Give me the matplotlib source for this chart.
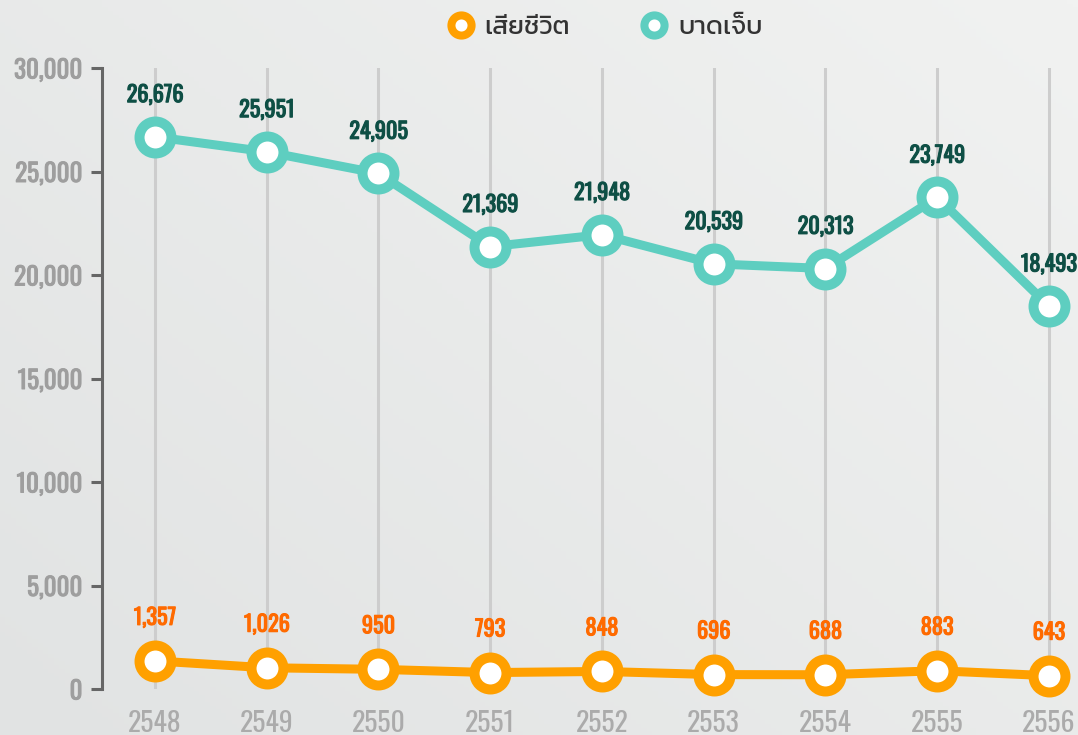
import matplotlib
matplotlib.use("Agg")
import matplotlib.pyplot as plt
import matplotlib.patheffects as pe
from matplotlib.lines import Line2D
import numpy as np

# data
years = [2548, 2549, 2550, 2551, 2552, 2553, 2554, 2555, 2556]
injured = [26676, 25951, 24905, 21369, 21948, 20539, 20313, 23749, 18493]
deaths = [1357, 1026, 950, 793, 848, 696, 688, 883, 643]
series_names = ["เสียชีวิต", "บาดเจ็บ"]
yticks = [0, 5000, 10000, 15000, 20000, 25000, 30000]

teal = "#5ecec0"
orange = "#ffa000"
num_font = ["Oswald", "Barlow Condensed", "DejaVu Sans"]
thai_font = ["Kanit", "Loma", "DejaVu Sans"]

fig = plt.figure(figsize=(10.78, 7.35), dpi=100)

# background gradient
bg = fig.add_axes([0, 0, 1, 1], zorder=-10)
gx, gy = np.meshgrid(np.linspace(0, 1, 200), np.linspace(0, 1, 200))
grad = 0.55 * gx + 0.45 * (1 - gy)
bg.imshow(grad, cmap=matplotlib.colors.LinearSegmentedColormap.from_list("bg", ["#e1e3e3", "#f1f2f1"]),
          extent=[0, 1, 0, 1], aspect="auto", origin="upper")
bg.axis("off")

ax = fig.add_axes([102 / 1078, 46 / 735, 976 / 1078, 621 / 735])
ax.patch.set_alpha(0)
ax.set_xlim(2547.526, 2556.26)
ax.set_ylim(0, 30000)

ax.set_xticks(years)
ax.set_xticklabels([str(y) for y in years], family=num_font, fontsize=20, color="#ababab")
ax.tick_params(axis="x", length=0, pad=15)
ax.grid(axis="x", color="#cdcdcd", linewidth=2.2)
ax.set_yticks(yticks)
ax.set_yticklabels([f"{v:,}" for v in yticks], family=num_font, fontsize=18, color="#9e9e9e")
for t in ax.get_yticklabels():
    t.set_path_effects([pe.withStroke(linewidth=0.7, foreground="#9e9e9e")])
ax.tick_params(axis="y", length=8, width=2.2, color="#666666", pad=6)
for s in ["top", "right", "bottom"]:
    ax.spines[s].set_visible(False)
ax.spines["left"].set_color("#666666")
ax.spines["left"].set_linewidth(2.2)

ax.plot(years, injured, color=teal, lw=6.5, marker="o", ms=23, mew=7.2, mfc="white", mec=teal,
        clip_on=False, zorder=5)
ax.plot(years, deaths, color=orange, lw=6.5, marker="o", ms=23, mew=7.2, mfc="white", mec=orange,
        clip_on=False, zorder=5)

for x, v in zip(years, injured):
    ax.annotate(f"{v:,}", (x, v), xytext=(0, 30), textcoords="offset points", ha="center", va="center",
                family=num_font, fontsize=16, color="#0e4f45", annotation_clip=False,
                path_effects=[pe.withStroke(linewidth=0.8, foreground="#0e4f45")])
for x, v in zip(years, deaths):
    ax.annotate(f"{v:,}", (x, v), xytext=(0, 31), textcoords="offset points", ha="center", va="center",
                family=num_font, fontsize=16, color="#ff6a00", annotation_clip=False,
                path_effects=[pe.withStroke(linewidth=0.8, foreground="#ff6a00")])

handles = [Line2D([], [], ls="none", marker="o", ms=14.5, mew=5.8, mfc="white", mec=c) for c in (orange, teal)]
leg = fig.legend(handles, series_names, loc="center", bbox_to_anchor=(0.56, 0.962), ncol=2, frameon=False,
                 prop={"family": thai_font, "size": 19}, handletextpad=0.3, columnspacing=2.6, handlelength=1.2)
for t in leg.get_texts():
    t.set_color("#333333")

fig.savefig("out.png")
